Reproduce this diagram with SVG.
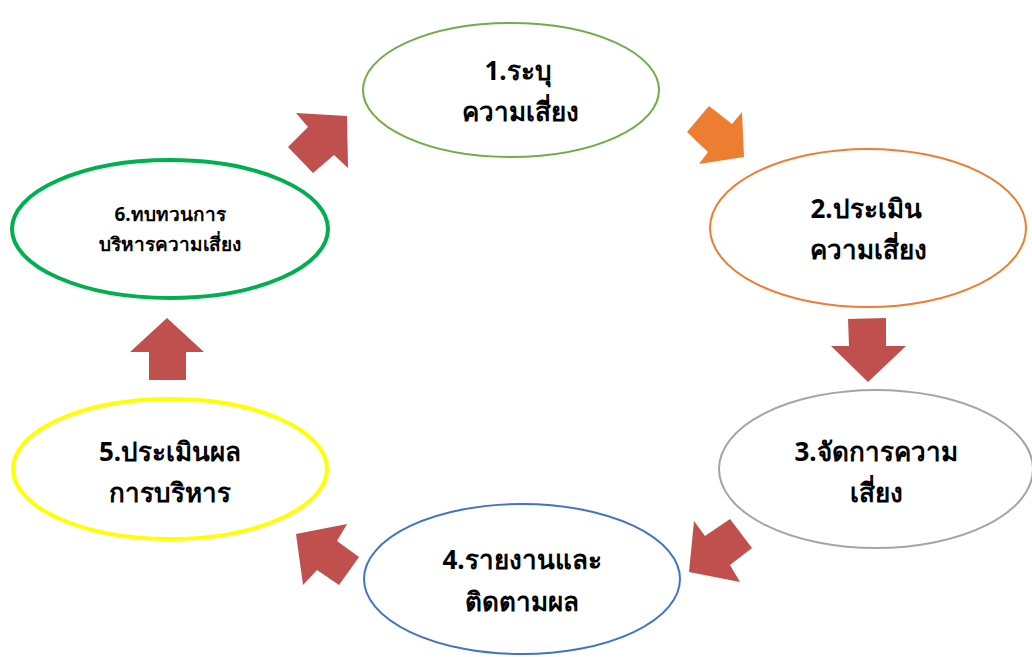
<svg xmlns="http://www.w3.org/2000/svg" width="1032" height="657" viewBox="0 0 1032 657">
<style>
.t{font-family:"Noto Sans","DejaVu Sans",sans-serif;font-weight:bold;font-size:26px;text-anchor:middle;fill:#000}
.s{font-size:19px}
.arr{fill:#C0504D}
</style>
<rect width="1032" height="657" fill="#fff"/>
<g id="n1"><ellipse cx="511" cy="90" rx="148" ry="67" fill="#fff" stroke="#70AD47" stroke-width="2"/>
<text class="t" x="518" y="80">1.ระบุ</text><text class="t" x="520" y="121">ความเสี่ยง</text></g>
<g id="n2"><ellipse cx="868" cy="228" rx="158" ry="79" fill="#fff" stroke="#ED7D31" stroke-width="2"/>
<text class="t" x="866" y="218">2.ประเมิน</text><text class="t" x="868" y="259">ความเสี่ยง</text></g>
<g id="n3"><ellipse cx="876" cy="469" rx="157" ry="79" fill="#fff" stroke="#A5A5A5" stroke-width="2"/>
<text class="t" x="876" y="461">3.จัดการความ</text><text class="t" x="876" y="502">เสี่ยง</text></g>
<g id="n4"><ellipse cx="522" cy="579" rx="158" ry="75" fill="#fff" stroke="#4472C4" stroke-width="2"/>
<text class="t" x="522" y="569">4.รายงานและ</text><text class="t" x="522" y="611">ติดตามผล</text></g>
<g id="n5"><ellipse cx="170" cy="469" rx="157" ry="70" fill="#fff" stroke="#FFFF00" stroke-width="4"/>
<text class="t" x="170" y="461">5.ประเมินผล</text><text class="t" x="170" y="502">การบริหาร</text></g>
<g id="n6"><ellipse cx="170" cy="229" rx="158" ry="69" fill="#fff" stroke="#00B050" stroke-width="4"/>
<text class="t s" x="170" y="221">6.ทบทวนการ</text><text class="t s" x="170" y="251">บริหารความเสี่ยง</text></g>
<g id="connectors">
<polygon class="arr" points="347,116 348,168 334,155 313,173 288,147 308,127 296,113"/>
<polygon points="709,106 732,124 742,112 744,157 699,164 708,152 687,132" fill="#ED7D31"/>
<polygon class="arr" points="848,319 886,318 886,346 906,346 868,382 831,346 849,346"/>
<polygon class="arr" points="694,521 705,536 730,519 752,548 730,565 740,582 689,572"/>
<polygon class="arr" points="296,534 347,524 337,541 359,557 339,585 317,570 303,585"/>
<polygon class="arr" points="167,318 204,352 186,352 186,380 149,380 149,352 130,352"/>
</g>
</svg>
